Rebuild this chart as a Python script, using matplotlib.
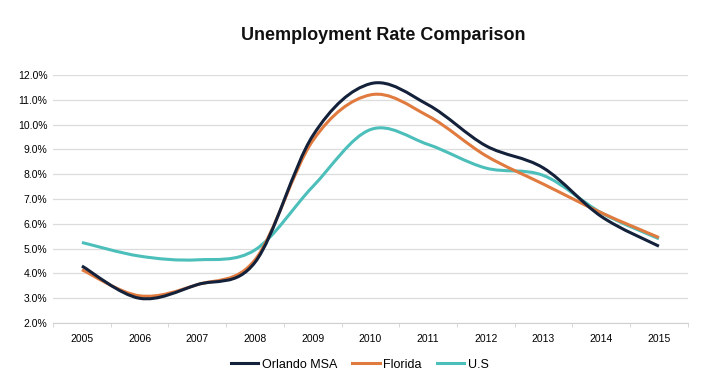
import matplotlib.pyplot as plt
import numpy as np
from matplotlib.lines import Line2D
from matplotlib.patches import PathPatch
from matplotlib.path import Path
from matplotlib.ticker import FuncFormatter, MultipleLocator

years = ["2005", "2006", "2007", "2008", "2009", "2010",
         "2011", "2012", "2013", "2014", "2015"]
orlando = [4.3, 3.0, 3.55, 4.45, 9.55, 11.65, 10.8, 9.15, 8.25, 6.3, 5.1]
florida = [4.15, 3.1, 3.55, 4.55, 9.35, 11.2, 10.35, 8.75, 7.6, 6.45, 5.45]
us = [5.25, 4.7, 4.55, 4.95, 7.5, 9.8, 9.2, 8.25, 7.95, 6.45, 5.4]

series = [
    ("U.S", us, "#4cbfbb"),
    ("Florida", florida, "#e07a3e"),
    ("Orlando MSA", orlando, "#14213a"),
]

plt.rcParams["font.family"] = ["Liberation Sans Narrow", "Liberation Sans", "DejaVu Sans"]


def smooth_path(x, y):
    # Excel-style smoothed line: cubic Bezier segments through every point
    pts = np.column_stack([x, y]).astype(float)
    n = len(pts)
    verts = [pts[0]]
    codes = [Path.MOVETO]
    for i in range(n - 1):
        p_prev = pts[max(i - 1, 0)]
        p_next2 = pts[min(i + 2, n - 1)]
        c1 = pts[i] + (pts[i + 1] - p_prev) / 6
        c2 = pts[i + 1] - (p_next2 - pts[i]) / 6
        verts += [c1, c2, pts[i + 1]]
        codes += [Path.CURVE4] * 3
    return Path(verts, codes)


fig = plt.figure(figsize=(7.27, 3.77), dpi=100)
ax = fig.add_axes([0.073, 0.143, 0.873, 0.658])

x = np.arange(len(years))
for name, vals, color in series:
    ax.add_patch(PathPatch(smooth_path(x, vals), fill=False, edgecolor=color,
                           lw=2.2, capstyle="butt"))

ax.set_xlim(-0.5, len(years) - 0.5)
ax.set_ylim(2, 12)
ax.yaxis.set_major_locator(MultipleLocator(1))
ax.yaxis.set_major_formatter(FuncFormatter(lambda v, _: f"{v:.1f}%"))
ax.set_xticks(x)
ax.set_xticklabels(years)
ax.set_xticks(np.arange(-0.5, len(years)), minor=True)
ax.tick_params(axis="x", which="major", length=0, pad=8, labelsize=7.5)
ax.tick_params(axis="x", which="minor", length=3, color="#d0d0d0")
ax.tick_params(axis="y", length=0, pad=4, labelsize=7.5)

ax.grid(axis="y", color="#dcdcdc", lw=0.9)
ax.set_axisbelow(True)
for side in ("top", "right", "left"):
    ax.spines[side].set_visible(False)
ax.spines["bottom"].set_color("#d0d0d0")

fig.text(0.527, 0.905, "Unemployment Rate Comparison", ha="center", va="center",
         fontsize=13, fontweight="bold", color="#111111")

handles = [Line2D([], [], color=c, lw=2.2) for _, _, c in reversed(series)]
labels = [n for n, _, _ in reversed(series)]
fig.legend(handles, labels, loc="center", bbox_to_anchor=(0.495, 0.033), ncol=3,
           frameon=False, fontsize=9, handlelength=2.2, handletextpad=0.3,
           columnspacing=1.2)

fig.savefig("out.png", dpi=100)
